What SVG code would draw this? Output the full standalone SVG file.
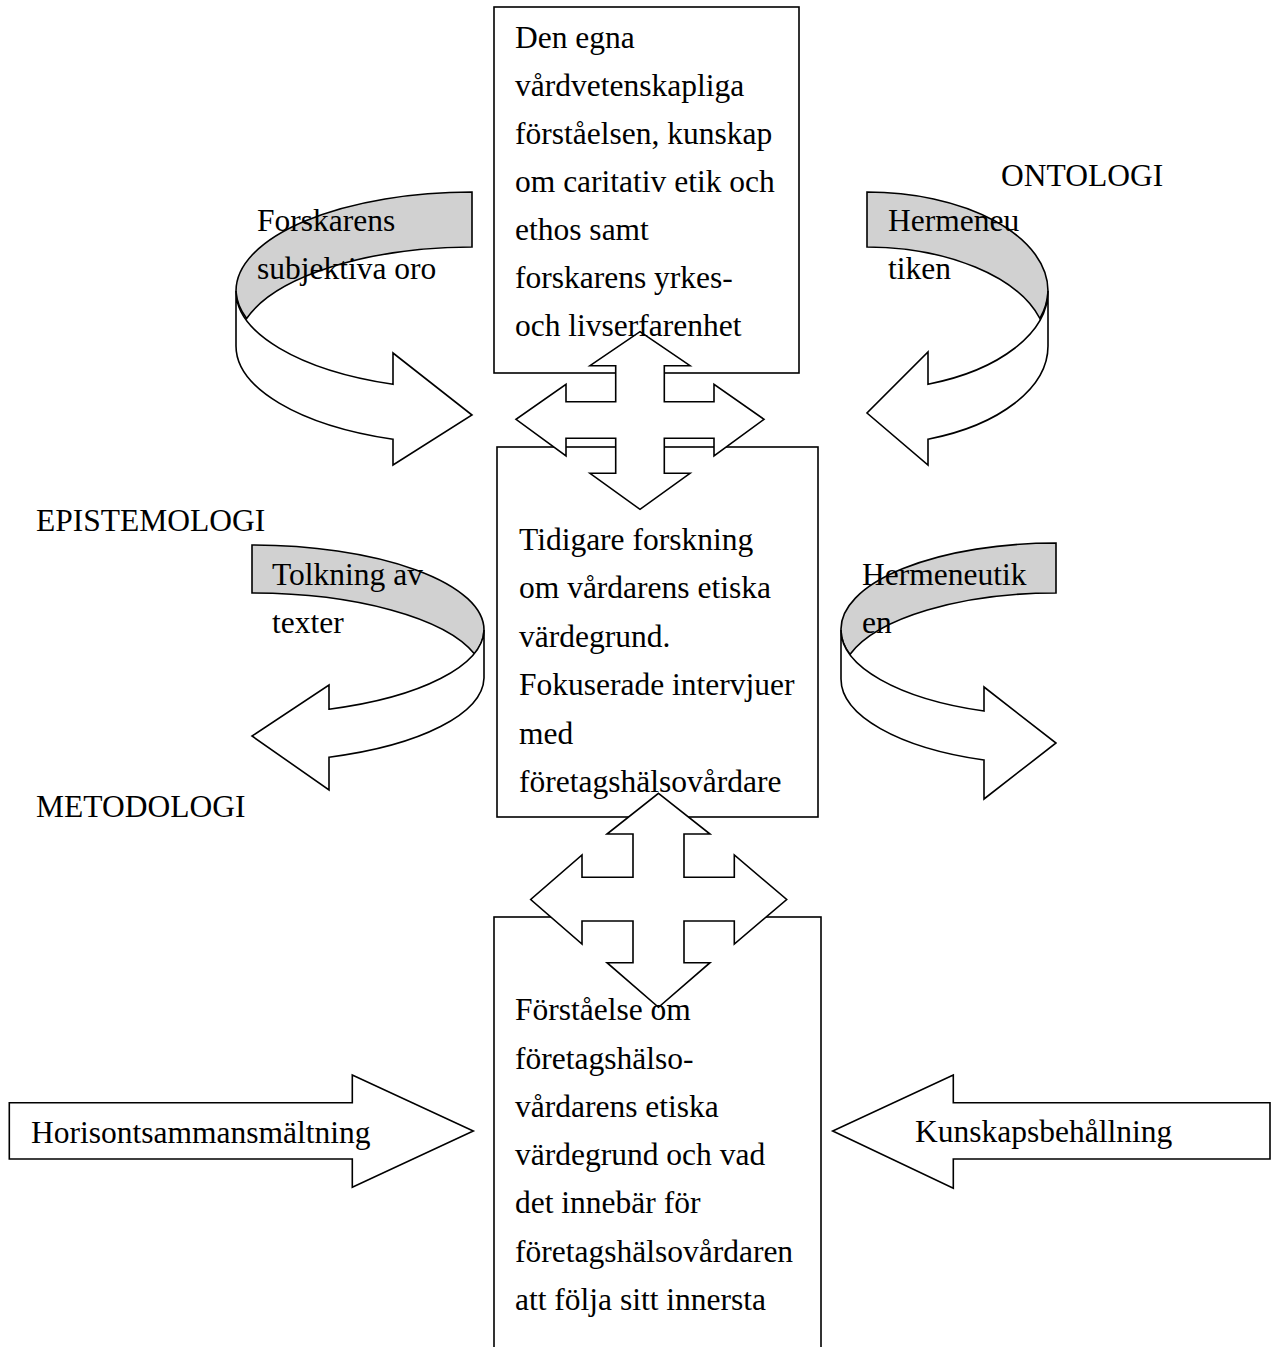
<svg xmlns="http://www.w3.org/2000/svg" width="1275" height="1347" viewBox="0 0 1275 1347">
<style>
  .t { font-family: "Liberation Serif", "Times New Roman", serif; font-size: 31.5px; fill: #000; }
  .box { fill: #fff; stroke: #000; stroke-width: 1.6; }
  .back { fill: #d1d1d1; stroke: #000; stroke-width: 1.6; stroke-linejoin: miter; }
  .front { fill: #fff; stroke: #000; stroke-width: 1.6; stroke-linejoin: miter; }
  .arr { fill: #fff; stroke: #000; stroke-width: 1.6; stroke-linejoin: miter; }
</style>
<rect width="1275" height="1347" fill="#fff"/>

<!-- Boxes -->
<g id="box-top">
  <rect class="box" x="494" y="7" width="305" height="366"/>
</g>
<g id="box-middle">
  <rect class="box" x="497" y="447" width="321" height="370"/>
</g>
<g id="box-bottom">
  <rect class="box" x="494" y="917" width="327" height="460"/>
</g>

<!-- Curved arrows -->
<g id="curved-forskarens">
  <path class="back" d="M472,192 A236,99 0 0 0 236,291 A236,99 0 0 0 246.6,318.5 A236,99 0 0 1 472,247 Z"/>
  <path class="front" d="M236,291 A236,99 0 0 0 393,384.3 L393,353 L472,415 L393,465 L393,439.3 A236,99 0 0 1 236,346 Z"/>
  <text class="t" x="257" y="231">Forskarens</text>
  <text class="t" x="257" y="279">subjektiva oro</text>
</g>
<g id="curved-hermeneutiken-top">
  <path class="back" d="M867,192 A181,99 0 0 1 1048,291 A181,99 0 0 1 1039.9,318.5 A181,99 0 0 0 867,247 Z"/>
  <path class="front" d="M1048,291 A181,99 0 0 1 928,384.2 L928,352 L867,413 L928,465 L928,439.2 A181,99 0 0 0 1048,346 Z"/>
  <text class="t" x="888" y="231">Hermeneu</text>
  <text class="t" x="888" y="279">tiken</text>
</g>
<g id="curved-tolkning">
  <path class="back" d="M252,545 A232,85 0 0 1 484,630 A232,85 0 0 1 474.6,654 A232,85 0 0 0 252,593 Z"/>
  <path class="front" d="M484,630 A232,85 0 0 1 329,709.2 L329,685 L252,736 L329,790 L329,757.2 A232,85 0 0 0 484,678 Z"/>
  <text class="t" x="272" y="585">Tolkning av</text>
  <text class="t" x="272" y="633">texter</text>
</g>
<g id="curved-hermeneutiken-mid">
  <path class="back" d="M1056,543 A215,86 0 0 0 841,630 A215,86 0 0 0 849.9,654.5 A215,86 0 0 1 1056,593 Z"/>
  <path class="front" d="M841,630 A215,86 0 0 0 984,711 L984,687 L1056,743 L984,799 L984,760 A215,86 0 0 1 841,679 Z"/>
  <text class="t" x="862" y="585">Hermeneutik</text>
  <text class="t" x="862" y="633">en</text>
</g>

<!-- Connectors: four-way and block arrows -->
<g id="connectors">
  <path class="arr" d="M640,331.7 L690,365.7 L664.3,365.7 L664.3,401.7 L714,401.7 L714,384.3 L764,419.3 L714,456 L714,438.3 L664.3,438.3 L664.3,473.3 L690,473.3 L640,509.3 L590,473.3 L615.7,473.3 L615.7,438.3 L566,438.3 L566,456 L516,419.3 L566,384.3 L566,401.7 L615.7,401.7 L615.7,365.7 L590,365.7 Z"/>
  <path class="arr" d="M658.5,793.3 L710,834 L684,834 L684,877.3 L734.3,877.3 L734.3,855 L786.7,899.5 L734.3,944 L734.3,921 L684,921 L684,962.7 L710,962.7 L658.5,1007.3 L607,962.7 L633,962.7 L633,921 L582,921 L582,944 L530.7,899.5 L582,855 L582,877.3 L633,877.3 L633,834 L607,834 Z"/>
</g>

<g id="arrow-horisont">
  <path class="arr" d="M9.3,1102.7 L352.3,1102.7 L352.3,1075 L473.3,1131 L352.3,1187.3 L352.3,1159 L9.3,1159 Z"/>
  <text class="t" x="31" y="1142.7">Horisontsammansmältning</text>
</g>
<g id="arrow-kunskap">
  <path class="arr" d="M1270,1102.7 L953.3,1102.7 L953.3,1075 L832.7,1131 L953.3,1188.3 L953.3,1159 L1270,1159 Z"/>
  <text class="t" x="915" y="1142">Kunskapsbehållning</text>
</g>

<!-- Box texts -->
<g id="text-top">
  <text class="t" x="515" y="48">Den egna</text>
  <text class="t" x="515" y="96">vårdvetenskapliga</text>
  <text class="t" x="515" y="144">förståelsen, kunskap</text>
  <text class="t" x="515" y="192">om caritativ etik och</text>
  <text class="t" x="515" y="240">ethos samt</text>
  <text class="t" x="515" y="288">forskarens yrkes-</text>
  <text class="t" x="515" y="336">och livserfarenhet</text>
</g>
<g id="text-middle">
  <text class="t" x="519" y="550">Tidigare forskning</text>
  <text class="t" x="519" y="598.4">om vårdarens etiska</text>
  <text class="t" x="519" y="646.8">värdegrund.</text>
  <text class="t" x="519" y="695.2">Fokuserade intervjuer</text>
  <text class="t" x="519" y="743.6">med</text>
  <text class="t" x="519" y="792">företagshälsovårdare</text>
</g>
<g id="text-bottom">
  <text class="t" x="515" y="1020.2">Förståelse om</text>
  <text class="t" x="515" y="1068.5">företagshälso-</text>
  <text class="t" x="515" y="1116.8">vårdarens etiska</text>
  <text class="t" x="515" y="1165.1">värdegrund och vad</text>
  <text class="t" x="515" y="1213.4">det innebär för</text>
  <text class="t" x="515" y="1261.7">företagshälsovårdaren</text>
  <text class="t" x="515" y="1310">att följa sitt innersta</text>
</g>

<!-- Side labels -->
<g id="label-ontologi"><text class="t" x="1001" y="186">ONTOLOGI</text></g>
<g id="label-epistemologi"><text class="t" x="36" y="531">EPISTEMOLOGI</text></g>
<g id="label-metodologi"><text class="t" x="36" y="817">METODOLOGI</text></g>
</svg>
